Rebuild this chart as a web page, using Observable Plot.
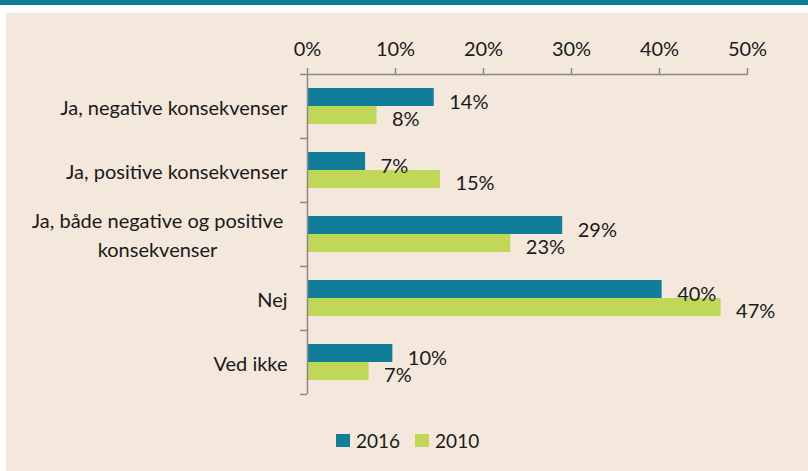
<!DOCTYPE html>
<html>
<head>
<meta charset="utf-8">
<script src="https://cdn.jsdelivr.net/npm/d3@7"></script>
<script src="https://cdn.jsdelivr.net/npm/@observablehq/plot@0.6"></script>
<style>
  html, body { margin: 0; padding: 0; background: #ffffff; width: 808px; height: 471px; overflow: hidden; }
  #band { position: absolute; left: 0; top: 0; width: 808px; height: 5px; background: #127d99; }
  #panel { position: absolute; left: 6px; top: 13px; width: 802px; height: 458px; background: #f4e8dc; }
  #legend { position: absolute; left: 336px; top: 429px; font-family: Lato, sans-serif; font-size: 19px; color: #1a1a1a; display: flex; align-items: center; }
  .sw { width: 14px; height: 13px; display: inline-block; margin-right: 6px; }
  .item { display: flex; align-items: center; margin-right: 15px; }
</style>
</head>
<body>
<div id="band"></div>
<div id="panel"><div id="chart"></div></div>
<div id="legend"></div>
<script>
const categories = [
  "Ja, negative konsekvenser",
  "Ja, positive konsekvenser",
  "Ja, både negative og positive konsekvenser",
  "Nej",
  "Ved ikke"
];
const values2016 = [14.4, 6.6, 29.0, 40.3, 9.7];
const values2010 = [7.9, 15.1, 23.1, 47.0, 7.0];
const years = ["2016", "2010"];
const colors = ["#127d99", "#bfd857"];
const xTicks = [0, 10, 20, 30, 40, 50];

const d2016 = categories.map((c, i) => ({category: c, value: values2016[i]}));
const d2010 = categories.map((c, i) => ({category: c, value: values2010[i]}));
const pct = v => `${Math.round(v)}%`;
const axisColor = "#8a8a8a";
const wrapped = categories[2];

const chart = Plot.plot({
  width: 802,
  height: 400,
  marginLeft: 301,
  marginRight: 61,
  marginTop: 61,
  marginBottom: 19,
  style: {fontFamily: "Lato, sans-serif", fontSize: "20px", color: "#1a1a1a", background: "transparent"},
  x: {domain: [0, 50], axis: null, label: null},
  y: {domain: categories, padding: 0, axis: null, label: null},
  marks: [
    Plot.barX(d2016, {x: "value", y: "category", fill: colors[0], insetTop: 14, insetBottom: 32}),
    Plot.barX(d2010, {x: "value", y: "category", fill: colors[1], insetTop: 32, insetBottom: 14}),
    Plot.text(d2016, {x: "value", y: "category", text: d => pct(d.value), textAnchor: "start", dx: 15, dy: -4, fill: "#1a1a1a"}),
    Plot.text(d2010, {x: "value", y: "category", text: d => pct(d.value), textAnchor: "start", dx: 15, dy: 13, fill: "#1a1a1a"}),
    Plot.axisX({anchor: "top", ticks: xTicks, tickFormat: d => `${d}%`, tickSize: 7, tickPadding: 12, label: null, stroke: axisColor, strokeWidth: 1.5, fill: "#1a1a1a"}),
    Plot.ruleY([categories[0]], {dy: -32, stroke: axisColor, strokeWidth: 1.5}),
    Plot.ruleX([0], {stroke: axisColor, strokeWidth: 1.5}),
    Plot.axisY({ticks: categories, tickSize: 7, text: null, label: null, dy: -32, stroke: axisColor, strokeWidth: 1.5}),
    Plot.axisY({ticks: categories.slice(-1), tickSize: 7, text: null, label: null, dy: 32, stroke: axisColor, strokeWidth: 1.5}),
    Plot.axisY({ticks: categories.filter(c => c !== wrapped), tickSize: 0, tickPadding: 20, label: null, dy: 2, textAnchor: "end", fill: "#1a1a1a"}),
    Plot.axisY({ticks: [wrapped], tickSize: 0, tickPadding: 20, label: null, dx: -130, dy: -1, textAnchor: "middle", lineHeight: 1.45,
      tickFormat: () => "Ja, både negative og positive\nkonsekvenser", fill: "#1a1a1a"})
  ]
});
document.getElementById("chart").appendChild(chart);

const legend = document.getElementById("legend");
years.forEach((y, i) => {
  const it = document.createElement("div");
  it.className = "item";
  it.innerHTML = `<span class="sw" style="background:${colors[i]}"></span><span>${y}</span>`;
  legend.appendChild(it);
});
</script>
</body>
</html>
